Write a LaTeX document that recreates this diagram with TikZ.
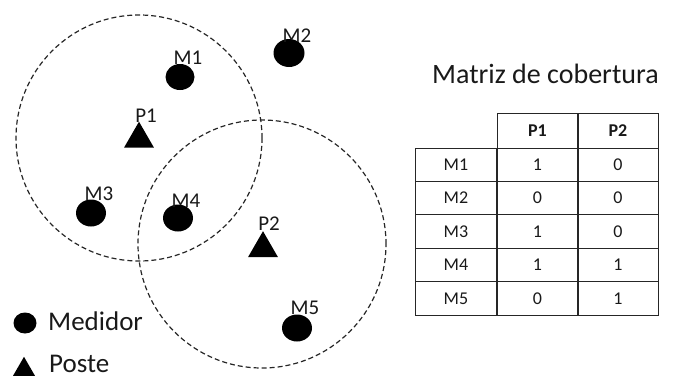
\documentclass[tikz,border=0pt]{standalone}
\usepackage{fontspec}
\setmainfont{Carlito}
\usetikzlibrary{shapes.geometric}
\begin{document}
\begin{tikzpicture}[x=1pt,y=-1pt,
  medidor/.style={ellipse, fill=black, inner sep=0pt, minimum width=29pt, minimum height=26pt},
  poste/.style={regular polygon, regular polygon sides=3, fill=black, inner sep=0pt, minimum size=34.6pt},
  lbl/.style={anchor=base, font=\fontsize{21}{21}\selectfont, text=black!90, inner sep=0pt},
  zone/.style={circle, draw=black!85, dash pattern=on 5pt off 3pt, line width=1.2pt, inner sep=0pt},
  cell/.style={draw=black!85, line width=1pt, minimum width=81pt, minimum height=33.4pt,
    inner sep=0pt, font=\fontsize{18}{18}\selectfont, text=black!90},
  legend/.style={anchor=base west, font=\fontsize{27}{27}\selectfont, text=black!90, inner sep=0pt},
]
\useasboundingbox (0,0) rectangle (673,380);

% coverage zones of the two posts
\node[zone, minimum size=246pt] (z1) at (139,138) {};
\node[zone, minimum size=248pt] (z2) at (262,244) {};

% meters
\node[medidor] (m1) at (180,77) {};
\node[medidor, minimum width=31pt, minimum height=28pt] (m2) at (289,53) {};
\node[medidor, minimum width=30pt, minimum height=27pt] (m3) at (91,213) {};
\node[medidor, minimum width=30pt, minimum height=27pt] (m4) at (178,218) {};
\node[medidor, minimum width=30pt, minimum height=27pt] (m5) at (297,328) {};

% posts
\node[poste] (p1) at (139,139) {};
\node[poste] (p2) at (263,248.5) {};

% labels
\node[lbl] (lm1) at (188,64) {M1};
\node[lbl] (lm2) at (297,42) {M2};
\node[lbl] (lm3) at (99,200) {M3};
\node[lbl] (lm4) at (186,207) {M4};
\node[lbl] (lm5) at (305,314) {M5};
\node[lbl] (lp1) at (146,122) {P1};
\node[lbl] (lp2) at (269,230) {P2};

% legend
\node[ellipse, fill=black, inner sep=0pt, minimum width=23pt, minimum height=21pt] (legm) at (25,323) {};
\node[legend] (legmt) at (48,330) {Medidor};
\node[regular polygon, regular polygon sides=3, fill=black, inner sep=0pt, minimum size=25.4pt] (legp) at (24,369.5) {};
\node[legend] (legpt) at (49,372) {Poste};

% coverage matrix
\node[anchor=base west, font=\fontsize{28}{28}\selectfont, text=black!90, inner sep=0pt] (title) at (432,83) {Matriz de cobertura};
\node[cell, minimum height=35pt, font=\fontsize{18}{18}\selectfont\bfseries] (h1) at (537.5,130.5) {P1};
\node[cell, minimum height=35pt, font=\fontsize{18}{18}\selectfont\bfseries] (h2) at (618,130.5) {P2};
\foreach \m/\a/\b [count=\i] in {M1/1/0, M2/0/0, M3/1/0, M4/1/1, M5/0/1} {
  \node[cell] (r\i) at (456,{148+33.4*(\i-0.5)}) {\m};
  \node[cell] (a\i) at (537.5,{148+33.4*(\i-0.5)}) {\a};
  \node[cell] (b\i) at (618,{148+33.4*(\i-0.5)}) {\b};
}
\end{tikzpicture}
\end{document}
